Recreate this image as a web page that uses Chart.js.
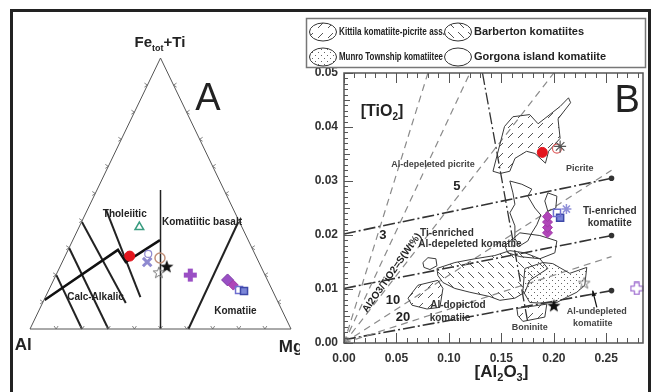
<!DOCTYPE html>
<html>
<head>
<meta charset="utf-8">
<script src="https://cdn.jsdelivr.net/npm/chart.js@4.4.1/dist/chart.umd.min.js"></script>
<style>
  html, body { margin: 0; padding: 0; background: #fff; }
  #wrap { position: relative; width: 656px; height: 392px; overflow: hidden; }
  #frame { position: absolute; left: 10px; top: 9px; width: 641px; height: 420px; border: 3px solid #222; box-sizing: border-box; }
  canvas { position: absolute; top: 0; }
  #cA { left: 0; }
  #cB { left: 296px; }
</style>
</head>
<body>
<div id="wrap">
  <canvas id="cA" width="300" height="392"></canvas>
  <canvas id="cB" width="360" height="392"></canvas>
  <div id="frame"></div>
</div>
<script>
const FF = '"Liberation Sans", Arial, sans-serif';

// ---------- Panel A: Jensen cation plot ----------
// triangle frame: x = Mg + (Fe+Ti)/2, y = Fe+Ti  (Al at 0,0 / Mg at 1,0 / Fe+Ti at 0.5,1)
const triX = [0, 0.5, 1, 0];
const triY = [0, 1, 0, 0];
const vertX = [0.5, 0.5];
const vertY = [0.513, 0];
const komBndX = [0.607, 0.798];
const komBndY = [0, 0.395];
const thcaX = [0.056, 0.337, 0.367, 0.498];
const thcaY = [0.107, 0.292, 0.247, 0.328];
const caX1 = [0.292, 0.199, 0.150, 0.101];
const caY1 = [0.439, 0.395, 0.299, 0.199];
const caX2 = [0.423, 0.367, 0.300, 0.199];
const caY2 = [0.118, 0.096, 0, 0];

const samplesA = ['triangle', 'red', 'xcross', 'xcircle', 'tan', 'star', 'openstar', 'plus', 'diamond', 'magenta', 'opensq', 'bluesq'];
const sampleAX = [0.419, 0.382, 0.449, 0.453, 0.498, 0.524, 0.494, 0.614, 0.757, 0.779, 0.801, 0.820];
const sampleAY = [0.376, 0.269, 0.247, 0.277, 0.262, 0.232, 0.210, 0.199, 0.181, 0.162, 0.144, 0.140];

// ---------- Panel B: [TiO2] vs [Al2O3] ----------
const sLabels = ['2', '3', '5', '10', '20'];          // Al2O3/TiO2 = S (wt)
const sEndX = [0.080, 0.120, 0.200, 0.255, 0.255];
const sEndY = [0.050, 0.050, 0.050, 0.032, 0.016];

const bndX = [0, 0.255];
const bndTopY = [0.0202, 0.0305];
const bndMidY = [0.0101, 0.0199];
const bndLowY = [0.0006, 0.0097];
const steepX = [0.132, 0.175];
const steepY = [0.050, 0.004];

const kittilaUpX = [0.142, 0.153, 0.161, 0.177, 0.185, 0.206, 0.214, 0.216, 0.204, 0.206, 0.195, 0.192, 0.182, 0.174, 0.163, 0.158, 0.149, 0.142];
const kittilaUpY = [0.0318, 0.0401, 0.0419, 0.0423, 0.0406, 0.0438, 0.0454, 0.0445, 0.0415, 0.0379, 0.0355, 0.0333, 0.0351, 0.0355, 0.0342, 0.0318, 0.0314, 0.0318];
const kittilaLoX = [0.061, 0.0705, 0.0895, 0.0943, 0.0914, 0.079, 0.0648, 0.061];
const kittilaLoY = [0.0083, 0.0107, 0.0116, 0.0101, 0.0066, 0.0063, 0.0070, 0.0083];
const barbertonX = [0.0886, 0.1057, 0.1248, 0.1438, 0.1581, 0.1724, 0.1867, 0.1943, 0.1771, 0.1724, 0.1629, 0.1486, 0.1390, 0.1200, 0.1057, 0.0943, 0.0895, 0.0886];
const barbertonY = [0.0138, 0.0149, 0.0156, 0.0162, 0.0171, 0.0167, 0.0156, 0.0138, 0.0116, 0.0094, 0.0083, 0.0079, 0.0086, 0.0094, 0.0101, 0.0112, 0.0125, 0.0138];
const munroX = [0.1724, 0.1895, 0.199, 0.2152, 0.2314, 0.2295, 0.2219, 0.2124, 0.2029, 0.1867, 0.1771, 0.1705, 0.1724];
const munroY = [0.0138, 0.0149, 0.0147, 0.0129, 0.0140, 0.0107, 0.0094, 0.0085, 0.0075, 0.0074, 0.0075, 0.0097, 0.0138];
const boniniteX = [0.1648, 0.1933, 0.1914, 0.1705, 0.1657, 0.1648];
const boniniteY = [0.0064, 0.0072, 0.0048, 0.0040, 0.0051, 0.0064];
const gorgona1X = [0.1581, 0.1695, 0.179, 0.1752, 0.1819, 0.1876, 0.1838, 0.179, 0.1752, 0.1676, 0.1629, 0.1629, 0.1581, 0.1629, 0.161, 0.1581];
const gorgona1Y = [0.0300, 0.0294, 0.0285, 0.0272, 0.0250, 0.0237, 0.0219, 0.0204, 0.0189, 0.0180, 0.0193, 0.0217, 0.0241, 0.0257, 0.0278, 0.0300];
const gorgona2X = [0.1943, 0.2029, 0.2019, 0.1943, 0.1914, 0.1943];
const gorgona2Y = [0.0278, 0.0272, 0.0250, 0.0244, 0.0263, 0.0278];
const gorgona3X = [0.1533, 0.1676, 0.1867, 0.2029, 0.201, 0.1867, 0.1676, 0.1562, 0.1533];
const gorgona3Y = [0.0180, 0.0204, 0.0199, 0.0189, 0.0167, 0.0156, 0.0160, 0.0167, 0.0180];
const gorgona4X = [0.0752, 0.080, 0.0876, 0.0886, 0.0819, 0.0762, 0.0752];
const gorgona4Y = [0.0149, 0.0158, 0.0156, 0.0143, 0.0136, 0.0140, 0.0149];

const samplesB = ['red', 'redring', 'graystar', 'magenta', 'magenta', 'magenta', 'magenta', 'bluesq', 'opensq', 'lavplus', 'star', 'openstar', 'openplus'];
const sampleBX = [0.189, 0.203, 0.206, 0.194, 0.194, 0.194, 0.194, 0.206, 0.203, 0.212, 0.200, 0.229, 0.279];
const sampleBY = [0.0353, 0.0360, 0.0364, 0.0204, 0.0214, 0.0224, 0.0234, 0.0232, 0.0241, 0.0248, 0.0070, 0.0112, 0.0101];

// ---------- helpers ----------
const pts = (xs, ys) => xs.map((x, i) => ({ x: x, y: ys[i] }));

function starImg(size, fill, stroke) {
  const c = document.createElement('canvas');
  c.width = c.height = size;
  const g = c.getContext('2d');
  const R = size / 2 - 1, r = R * 0.42, cx = size / 2, cy = size / 2 + 0.8;
  g.beginPath();
  for (let k = 0; k < 10; k++) {
    const a = -Math.PI / 2 + k * Math.PI / 5, rr = k % 2 ? r : R;
    g.lineTo(cx + rr * Math.cos(a), cy + rr * Math.sin(a));
  }
  g.closePath();
  if (fill) { g.fillStyle = fill; g.fill(); }
  if (stroke) { g.strokeStyle = stroke; g.lineWidth = 1; g.stroke(); }
  return c;
}
function plusImg(size, fill, stroke) {
  const c = document.createElement('canvas');
  c.width = c.height = size;
  const g = c.getContext('2d');
  const m = size / 2, a = size * 0.17, b = size / 2 - 1;
  g.beginPath();
  [[-a, -b], [a, -b], [a, -a], [b, -a], [b, a], [a, a], [a, b], [-a, b], [-a, a], [-b, a], [-b, -a], [-a, -a]]
    .forEach(p => g.lineTo(m + p[0], m + p[1]));
  g.closePath();
  g.lineJoin = 'round';
  if (fill) { g.fillStyle = fill; g.fill(); }
  if (stroke) { g.strokeStyle = stroke; g.lineWidth = 1.3; g.stroke(); }
  return c;
}
function tile(draw, w) {
  const c = document.createElement('canvas');
  c.width = c.height = w;
  const g = c.getContext('2d');
  draw(g);
  return c.getContext('2d').createPattern(c, 'repeat');
}
const hatchFwd = tile(g => { g.strokeStyle = '#555'; g.lineWidth = 1; g.beginPath(); g.moveTo(2, 8); g.lineTo(7, 3); g.stroke(); }, 10);
const hatchBack = tile(g => { g.strokeStyle = '#555'; g.lineWidth = 1; g.beginPath(); g.moveTo(2, 2); g.lineTo(8, 8); g.stroke(); }, 10);
const dots = tile(g => { g.fillStyle = '#666'; g.fillRect(1, 1, 1, 1); g.fillRect(4, 4, 1, 1); }, 6);

const markStyles = {
  triangle: { s: 'triangle', r: 5, bg: 'rgba(0,0,0,0)', bc: '#3a9c80', bw: 1.5 },
  red:      { s: 'circle', r: 5, bg: '#e3161e', bc: '#e3161e', bw: 1 },
  redring:  { s: 'circle', r: 4.5, bg: 'rgba(0,0,0,0)', bc: '#e06060', bw: 1.2 },
  xcross:   { s: 'crossRot', r: 6, bg: '#8f8ad0', bc: '#8f8ad0', bw: 3 },
  xcircle:  { s: 'circle', r: 3.5, bg: 'rgba(0,0,0,0)', bc: '#8f8ad0', bw: 1.2 },
  tan:      { s: 'circle', r: 5, bg: 'rgba(0,0,0,0)', bc: '#c0907a', bw: 1.5 },
  star:     { s: starImg(16, '#111', null), r: 8 },
  openstar: { s: starImg(14, null, '#777'), r: 7 },
  graystar: { s: 'star', r: 6, bg: '#777', bc: '#555', bw: 1.2 },
  plus:     { s: plusImg(15, '#9a4fc4', null), r: 7 },
  openplus: { s: plusImg(14, null, '#a070d0'), r: 7 },
  lavplus:  { s: 'star', r: 5, bg: '#9090d8', bc: '#9090d8', bw: 1.5 },
  diamond:  { s: 'rectRot', r: 6, bg: '#9a4fc4', bc: '#7a3aa4', bw: 1 },
  magenta:  { s: 'rectRot', r: 5, bg: '#b045b8', bc: '#a03aa8', bw: 1 },
  opensq:   { s: 'rect', r: 5, bg: 'rgba(0,0,0,0)', bc: '#6f6fd0', bw: 1.5 },
  bluesq:   { s: 'rect', r: 5, bg: '#7b86d8', bc: '#3d48a8', bw: 1.5 }
};
function markDataset(names, xs, ys) {
  const st = names.map(n => markStyles[n]);
  return {
    type: 'scatter', data: pts(xs, ys), clip: false,
    pointStyle: st.map(s => s.s), pointRadius: st.map(s => s.r),
    backgroundColor: st.map(s => s.bg || '#000'), borderColor: st.map(s => s.bc || '#000'),
    pointBorderWidth: st.map(s => s.bw || 1)
  };
}
function lineDs(xs, ys, color, width, dash, extra) {
  return Object.assign({
    type: 'scatter', data: pts(xs, ys), showLine: true, pointRadius: 0, clip: false,
    borderColor: color, borderWidth: width, borderDash: dash || [], fill: false, tension: 0
  }, extra || {});
}
function polyDs(xs, ys, pattern) {
  return lineDs(xs, ys, '#3a3a3a', 1, [], { fill: pattern ? 'shape' : false, backgroundColor: pattern || 'rgba(0,0,0,0)' });
}
function rich(ctx, parts, x, y, size, align) {
  let total = 0;
  const w = parts.map(p => {
    ctx.font = 'bold ' + (p[1] ? Math.round(size * 0.62) : size) + 'px ' + FF;
    const m = ctx.measureText(p[0]).width; total += m; return m;
  });
  let cx = align === 'center' ? x - total / 2 : x;
  ctx.textAlign = 'left';
  parts.forEach((p, i) => {
    ctx.font = 'bold ' + (p[1] ? Math.round(size * 0.62) : size) + 'px ' + FF;
    ctx.fillText(p[0], cx, p[1] ? y + size * 0.35 : y);
    cx += w[i];
  });
}

// ---------- chart A ----------
const notesA = [
  ['Tholeiitic', 0.363, 0.424, 'bold 10px'],
  ['Komatiitic basalt', 0.659, 0.395, 'bold 10px'],
  ['Calc-Alkalic', 0.251, 0.118, 'bold 10px'],
  ['Komatiie', 0.787, 0.066, 'bold 10px'],
  ['Al', -0.026, -0.059, 'bold 17px'],
  ['Mg', 1.0, -0.066, 'bold 17px']
];
const panelA = {
  id: 'panelA',
  afterDatasetsDraw(chart) {
    const ctx = chart.ctx, xs = chart.scales.x, ys = chart.scales.y;
    const P = (x, y) => [xs.getPixelForValue(x), ys.getPixelForValue(y)];
    ctx.save();
    // edge ticks every 10 %
    ctx.strokeStyle = '#666'; ctx.lineWidth = 0.8;
    for (let k = 1; k < 10; k++) {
      const f = k / 10;
      let p = P(0.5 * f, f);      ctx.beginPath(); ctx.moveTo(p[0] - 3, p[1] - 2); ctx.lineTo(p[0], p[1]); ctx.lineTo(p[0] - 3, p[1] + 2); ctx.stroke();
      p = P(1 - 0.5 * f, f);      ctx.beginPath(); ctx.moveTo(p[0] + 3, p[1] - 2); ctx.lineTo(p[0], p[1]); ctx.lineTo(p[0] + 3, p[1] + 2); ctx.stroke();
      p = P(f, 0);                ctx.beginPath(); ctx.moveTo(p[0] - 2, p[1] - 3); ctx.lineTo(p[0], p[1]); ctx.lineTo(p[0] + 2, p[1] - 3); ctx.stroke();
    }
    ctx.fillStyle = '#222'; ctx.textBaseline = 'middle'; ctx.textAlign = 'center';
    notesA.forEach(n => {
      const p = P(n[1], n[2]);
      ctx.font = n[3] + ' ' + FF;
      ctx.fillText(n[0], p[0], p[1]);
    });
    let p = P(0.498, 1.055);
    rich(ctx, [['Fe', 0], ['tot', 1], ['+Ti', 0]], p[0], p[1], 15, 'center');
    p = P(0.682, 0.845);
    ctx.font = '38px ' + FF; ctx.textAlign = 'center';
    ctx.fillText('A', p[0], p[1]);
    ctx.restore();
  }
};
const datasetsA = [markDataset(samplesA, sampleAX, sampleAY),
  lineDs(triX, triY, '#555', 1),
  lineDs(vertX, vertY, '#222', 1.5),
  lineDs(komBndX, komBndY, '#222', 2),
  lineDs(thcaX, thcaY, '#111', 2.5)];
caX1.forEach((x, i) => datasetsA.push(lineDs([x, caX2[i]], [caY1[i], caY2[i]], '#222', 2)));

new Chart(document.getElementById('cA'), {
  type: 'scatter',
  data: { datasets: datasetsA },
  options: {
    responsive: false, animation: false, devicePixelRatio: 1,
    layout: { padding: { left: 30, right: 3, top: 58, bottom: 63 } },
    scales: {
      x: { type: 'linear', min: 0, max: 1, display: false },
      y: { type: 'linear', min: 0, max: 1, display: false }
    },
    plugins: { legend: { display: false }, tooltip: { enabled: false } }
  },
  plugins: [panelA]
});

// ---------- chart B ----------
const notesB = [
  ['Al-depeleted picrite', 0.0848, 0.0331, 'bold 9px', '#444'],
  ['5', 0.1076, 0.0290, 'bold 13px', '#222'],
  ['3', 0.0371, 0.0200, 'bold 13px', '#222'],
  ['10', 0.0467, 0.0079, 'bold 13px', '#222'],
  ['20', 0.0562, 0.0048, 'bold 13px', '#222'],
  ['Picrite', 0.2248, 0.0324, 'bold 9px', '#444'],
  ['Ti-enriched', 0.2533, 0.0244, 'bold 10px', '#333'],
  ['komatiite', 0.2533, 0.0221, 'bold 10px', '#333'],
  ['Ti-enriched', 0.0981, 0.0204, 'bold 10px', '#333'],
  ['Al-depeleted komatiie', 0.1200, 0.0182, 'bold 10px', '#333'],
  ['Al-dopictod', 0.1086, 0.0070, 'bold 10px', '#333'],
  ['komatiie', 0.1010, 0.0046, 'bold 10px', '#333'],
  ['Boninite', 0.1771, 0.0028, 'bold 9px', '#444'],
  ['Al-undepleted', 0.2410, 0.0059, 'bold 9px', '#444'],
  ['komatiite', 0.2371, 0.0037, 'bold 9px', '#444']
];
const legendB = [
  ['Kittila komatiite-picrite ass.', hatchFwd, 106],
  ['Barberton komatiites', hatchBack, 112],
  ['Munro Township komatiitee', dots, 104],
  ['Gorgona island komatiite', null, 172]
];
const panelB = {
  id: 'panelB',
  afterDatasetsDraw(chart) {
    const ctx = chart.ctx, xs = chart.scales.x, ys = chart.scales.y, a = chart.chartArea;
    const P = (x, y) => [xs.getPixelForValue(x), ys.getPixelForValue(y)];
    ctx.save();
    // frame and inward ticks
    ctx.strokeStyle = '#555'; ctx.lineWidth = 1.5;
    ctx.strokeRect(a.left, a.top, a.right - a.left, a.bottom - a.top);
    ctx.lineWidth = 1;
    for (let i = 0; i <= 28; i++) {
      const px = Math.round(xs.getPixelForValue(i / 100)) + 0.5, L = i % 5 === 0 ? 10 : 5;
      ctx.beginPath(); ctx.moveTo(px, a.bottom); ctx.lineTo(px, a.bottom - L);
      ctx.moveTo(px, a.top); ctx.lineTo(px, a.top + L); ctx.stroke();
    }
    for (let i = 0; i <= 50; i++) {
      const py = Math.round(ys.getPixelForValue(i / 1000)) + 0.5, L = i % 10 === 0 ? 9 : (i % 5 === 0 ? 6 : 4);
      ctx.beginPath(); ctx.moveTo(a.left, py); ctx.lineTo(a.left + L, py); ctx.stroke();
    }
    // labels
    ctx.textBaseline = 'middle'; ctx.textAlign = 'center';
    notesB.forEach(n => {
      const p = P(n[1], n[2]);
      ctx.font = n[3] + ' ' + FF; ctx.fillStyle = n[4];
      ctx.fillText(n[0], p[0], p[1]);
    });
    ctx.fillStyle = '#222';
    let p = P(0.0457, 0.0130);
    ctx.save(); ctx.translate(p[0], p[1]); ctx.rotate(-55 * Math.PI / 180);
    ctx.font = 'bold 10px ' + FF; ctx.fillText('Al2O3/TiO2=S(Wt%)', 0, 0); ctx.restore();
    p = P(0.0362, 0.0428);
    rich(ctx, [['[TiO', 0], ['2', 1], [']', 0]], p[0], p[1], 16, 'center');
    rich(ctx, [['[Al', 0], ['2', 1], ['O', 0], ['3', 1], [']', 0]], (a.left + a.right) / 2 + 8, 372, 17, 'center');
    p = P(0.270, 0.0447);
    ctx.font = '38px ' + FF; ctx.textAlign = 'center'; ctx.fillText('B', p[0], p[1]);
    // arrow to the Al-undepleted boundary
    const p1 = P(0.241, 0.0066), p2 = P(0.237, 0.0097);
    ctx.strokeStyle = '#111'; ctx.lineWidth = 1.2;
    ctx.beginPath(); ctx.moveTo(p1[0], p1[1]); ctx.lineTo(p2[0], p2[1]); ctx.stroke();
    const ang = Math.atan2(p2[1] - p1[1], p2[0] - p1[0]);
    ctx.beginPath(); ctx.moveTo(p2[0], p2[1]);
    ctx.lineTo(p2[0] - 6 * Math.cos(ang - 0.4), p2[1] - 6 * Math.sin(ang - 0.4));
    ctx.lineTo(p2[0] - 6 * Math.cos(ang + 0.4), p2[1] - 6 * Math.sin(ang + 0.4));
    ctx.closePath(); ctx.fillStyle = '#111'; ctx.fill();
    // legend box
    ctx.strokeStyle = '#777'; ctx.lineWidth = 1.5;
    ctx.strokeRect(10.5, 18.5, 339, 49);
    legendB.forEach((e, i) => {
      const cx = i % 2 ? 162 : 27, cy = i < 2 ? 32 : 57;
      ctx.beginPath(); ctx.ellipse(cx, cy, 13.5, 9, 0, 0, Math.PI * 2);
      ctx.fillStyle = e[1] || '#fff'; ctx.fill();
      ctx.strokeStyle = '#333'; ctx.lineWidth = 1; ctx.stroke();
      ctx.fillStyle = '#222'; ctx.font = 'bold 11px ' + FF; ctx.textAlign = 'left';
      ctx.fillText(e[0], cx + 16, cy, e[2]);
    });
    ctx.restore();
  }
};

const datasetsB = [markDataset(samplesB, sampleBX, sampleBY),
  polyDs(gorgona1X, gorgona1Y, null),
  polyDs(gorgona2X, gorgona2Y, null),
  polyDs(gorgona3X, gorgona3Y, null),
  polyDs(gorgona4X, gorgona4Y, null),
  polyDs(kittilaUpX, kittilaUpY, hatchFwd),
  polyDs(kittilaLoX, kittilaLoY, hatchFwd),
  polyDs(barbertonX, barbertonY, hatchBack),
  polyDs(munroX, munroY, dots),
  polyDs(boniniteX, boniniteY, hatchFwd)];
sEndX.forEach((x, i) => datasetsB.push(lineDs([0, x], [0, sEndY[i]], '#8a8a8a', 1.2, [7, 5])));
[bndTopY, bndMidY, bndLowY].forEach(ys => datasetsB.push(
  lineDs(bndX, ys, '#333', 1.6, [12, 3, 2, 3], { pointRadius: [0, 2], pointBackgroundColor: '#333' })));
datasetsB.push(lineDs(steepX, steepY, '#333', 1.3, [12, 3, 2, 3]));

new Chart(document.getElementById('cB'), {
  type: 'scatter',
  data: { datasets: datasetsB },
  options: {
    responsive: false, animation: false, devicePixelRatio: 1,
    layout: { padding: { left: 8, right: 13, top: 73, bottom: 0 } },
    scales: {
      x: {
        type: 'linear', min: 0, max: 0.285,
        grid: { display: false, drawTicks: false }, border: { display: false },
        ticks: { stepSize: 0.05, includeBounds: false, padding: 8, color: '#333', font: { size: 12, weight: 'bold', family: FF },
                 callback: v => v.toFixed(2), maxRotation: 0 },
        afterFit: s => { s.height = 49; }
      },
      y: {
        type: 'linear', min: 0, max: 0.05,
        grid: { display: false, drawTicks: false }, border: { display: false },
        ticks: { stepSize: 0.01, padding: 6, color: '#333', font: { size: 12, weight: 'bold', family: FF },
                 callback: v => v.toFixed(2) },
        afterFit: s => { s.width = 40; }
      }
    },
    plugins: { legend: { display: false }, tooltip: { enabled: false } }
  },
  plugins: [panelB]
});
</script>
</body>
</html>
